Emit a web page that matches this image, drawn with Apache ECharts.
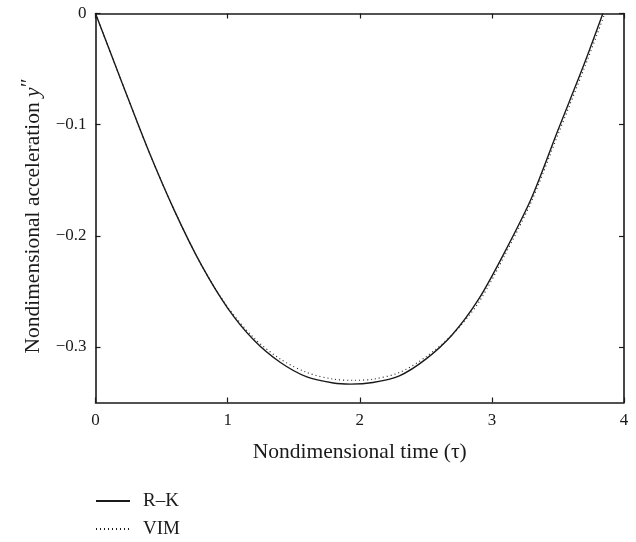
<!DOCTYPE html>
<html>
<head>
<meta charset="utf-8">
<script src="https://cdn.jsdelivr.net/npm/echarts@6/dist/echarts.min.js"></script>
<style>
html,body{margin:0;padding:0;background:#fff;}
#chart{width:636px;height:542px;}
</style>
</head>
<body>
<div id="chart"></div>
<script>
// values: tau, y''
var rkTau = [0, 0.2, 0.4, 0.6, 0.8, 1.0, 1.2, 1.4, 1.6, 1.8, 1.93, 2.1, 2.3, 2.5, 2.7, 2.9, 3.1, 3.3, 3.5, 3.7, 3.84];
var rkAcc = [0, -0.062, -0.123, -0.178, -0.226, -0.265, -0.294, -0.314, -0.327, -0.3325, -0.3335, -0.332, -0.326, -0.311, -0.289, -0.257, -0.214, -0.166, -0.105, -0.045, 0];
var vimTau = [0, 0.2, 0.4, 0.6, 0.8, 1.0, 1.2, 1.4, 1.6, 1.8, 1.95, 2.1, 2.3, 2.5, 2.7, 2.9, 3.1, 3.3, 3.5, 3.7, 3.855];
var vimAcc = [0, -0.062, -0.123, -0.178, -0.226, -0.264, -0.292, -0.311, -0.323, -0.329, -0.330, -0.329, -0.323, -0.309, -0.289, -0.260, -0.217, -0.169, -0.109, -0.049, 0];
var yTicks = [0, -0.1, -0.2, -0.3];

function pairs(xs, ys) {
    var out = [];
    for (var i = 0; i < xs.length; i++) out.push([xs[i], ys[i]]);
    return out;
}

var font = 'Liberation Serif';
var ink = '#1a1a1a';

var chart = echarts.init(document.getElementById('chart'));
var tickStyle = {inside: true, length: 5, lineStyle: {color: ink, width: 1.2}};
var lineStyle = {show: true, onZero: false, lineStyle: {color: ink, width: 1.6}};

chart.setOption({
    animation: false,
    grid: {left: 95.5, top: 13.5, right: 12, bottom: 139.5},
    legend: {
        orient: 'vertical',
        left: 95,
        top: 490,
        height: 52,
        padding: 0,
        itemWidth: 34,
        itemHeight: 14,
        itemGap: 6,
        itemStyle: {opacity: 0},
        textStyle: {fontFamily: font, fontSize: 19, lineHeight: 22, color: ink, padding: [0, 0, 0, 8]},
        data: ['R\u2013K', 'VIM']
    },
    xAxis: [{
        type: 'value', min: 0, max: 4, interval: 1,
        axisLine: lineStyle,
        axisTick: tickStyle,
        splitLine: {show: false},
        axisLabel: {fontFamily: font, fontSize: 17, color: ink, margin: 10},
        name: 'Nondimensional time (\u03c4)',
        nameLocation: 'middle',
        nameGap: 39,
        nameTextStyle: {fontFamily: font, fontSize: 21.5, color: ink}
    }, {
        type: 'value', min: 0, max: 4, interval: 1, position: 'top',
        axisLine: lineStyle,
        axisTick: tickStyle,
        splitLine: {show: false},
        axisLabel: {show: false}
    }],
    yAxis: [{
        type: 'value', min: -0.35, max: 0,
        axisLine: lineStyle,
        axisTick: Object.assign({customValues: yTicks}, tickStyle),
        splitLine: {show: false},
        axisLabel: {
            customValues: yTicks,
            fontFamily: font, fontSize: 17, color: ink, margin: 9,
            formatter: function (v) { return v === 0 ? '0' : '\u2212' + Math.abs(v).toFixed(1); }
        },
        name: 'Nondimensional acceleration {i|y}{p|\u2033}',
        nameLocation: 'middle',
        nameGap: 48,
        nameTextStyle: {
            fontFamily: font, fontSize: 21.5, color: ink,
            padding: [0, 16, 0, 0],
            rich: {
                i: {fontFamily: font, fontSize: 21.5, fontStyle: 'italic', color: ink},
                p: {fontFamily: font, fontSize: 21.5, color: ink, verticalAlign: 'top', padding: [0, 0, 7, 0]}
            }
        }
    }, {
        type: 'value', min: -0.35, max: 0, position: 'right',
        axisLine: lineStyle,
        axisTick: Object.assign({customValues: yTicks}, tickStyle),
        splitLine: {show: false},
        axisLabel: {show: false}
    }],
    series: [{
        name: 'R\u2013K',
        type: 'line',
        smooth: 0.3,
        symbol: 'none',
        data: pairs(rkTau, rkAcc),
        lineStyle: {color: ink, width: 1.4, type: 'solid'},
        itemStyle: {color: ink}
    }, {
        name: 'VIM',
        type: 'line',
        smooth: 0.3,
        symbol: 'none',
        data: pairs(vimTau, vimAcc),
        lineStyle: {color: ink, width: 1.1, type: [1, 3]},
        itemStyle: {color: ink}
    }]
});
</script>
</body>
</html>
